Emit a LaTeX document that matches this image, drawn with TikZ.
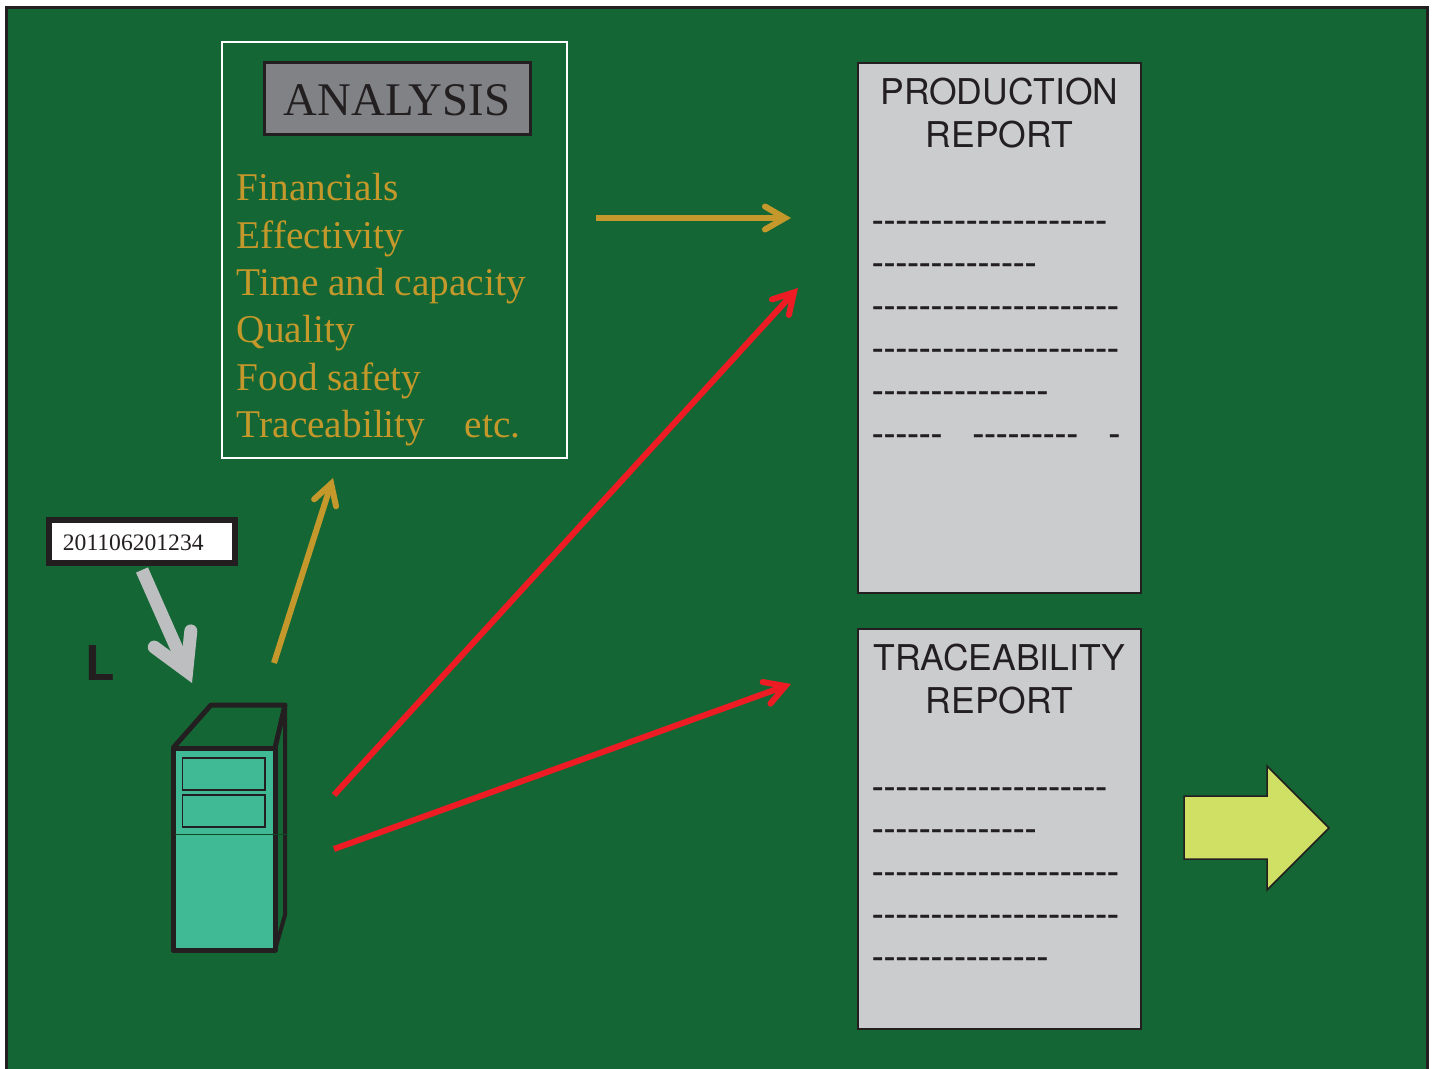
\documentclass[tikz,border=0pt]{standalone}
\usepackage{fontspec}
\usetikzlibrary{arrows.meta}
\newfontfamily\rsans{TeX Gyre Heros}
\newfontfamily\rserif{Liberation Serif}
\definecolor{bggreen}{HTML}{146734}
\definecolor{gold}{HTML}{C4982B}
\definecolor{redline}{HTML}{ED1C24}
\definecolor{teal}{HTML}{40BA94}
\definecolor{paper}{HTML}{CBCCCE}
\definecolor{lime}{HTML}{CFE065}
\definecolor{midgrey}{HTML}{808285}
\definecolor{ink}{HTML}{231F20}
\definecolor{arrowgrey}{HTML}{BCBEC0}
\tikzset{
  x=0.5pt,y=-0.5pt,
  px/.style={line width=#1*0.5pt},
  goldarrow/.style={draw=gold,px=6,-{Straight Barb[length=10pt,width=11.5pt,line cap=round,line join=miter]}},
  redarrow/.style={draw=redline,px=6,-{Straight Barb[length=10pt,width=11.5pt,line cap=round,line join=miter]}},
  greyarrow/.style={draw=arrowgrey,px=13,-{Straight Barb[length=17.5pt,width=20pt,line cap=round,line join=miter]}},
  listitem/.style={anchor=base west,inner sep=0pt,text=gold,font=\rserif\fontsize{19.65pt}{19.65pt}\selectfont},
  dashline/.style={anchor=base west,inner sep=0pt,text=ink,font=\rsans\fontsize{17.65pt}{17.65pt}\selectfont\addfontfeature{FakeBold=1.2}},
  reporthead/.style={anchor=base,inner sep=0pt,text=ink,font=\rsans\fontsize{17.75pt}{17.75pt}\selectfont},
  sheet/.style={draw=ink,fill=paper,px=1.4},
  drive/.style={draw=ink,fill=teal,px=1.5},
}
\begin{document}
\begin{tikzpicture}
\useasboundingbox (0,0) rectangle (1438,1069);
% background
\fill[bggreen] (6,8) rectangle (1427,1069);
\draw[ink,px=3] (6,1069) -- (6,8) -- (1427,8) -- (1427,1069);
% analysis frame
\draw[white,px=1.2] (222,42) rectangle (567,458);
\draw[ink,fill=midgrey,px=3] (264.5,62.5) rectangle (530.5,134.5);
\node[anchor=base,inner sep=0pt,text=ink,font=\rserif\fontsize{23.4pt}{23.4pt}\selectfont] (title) at (397,116) {ANALYSIS};
\node[listitem] (i1) at (236.5,201) {Financials};
\node[listitem] (i2) at (236.5,249) {Effectivity};
\node[listitem] (i3) at (236.5,296) {Time and capacity};
\node[listitem] (i4) at (236.5,343) {Quality};
\node[listitem] (i5) at (236.5,390.5) {Food safety};
\node[listitem] (i6) at (236.5,437.5) {Traceability};
\node[listitem] (i7) at (464.5,437.5) {etc.};
% label
\draw[ink,fill=white,px=6] (49,520) rectangle (235,563);
\node[anchor=base west,inner sep=0pt,text=ink,font=\rserif\fontsize{11.8pt}{11.8pt}\selectfont] (code) at (62.5,550) {201106201234};
\node[anchor=base west,inner sep=0pt,text=ink,font=\rsans\bfseries\fontsize{24pt}{24pt}\selectfont] (ell) at (85,680) {L};
% server
\draw[teal,fill=teal] (173,748) rectangle (275,950);
\draw[ink,px=5,line join=round] (173,748) -- (211,705) -- (285,705) -- (275,748);
\draw[ink,px=4,line join=round] (285,705) -- (285,915) -- (275,950);
\draw[ink,px=5,line join=round] (173,748) rectangle (275,950);
\draw[drive] (182.5,758) rectangle (265,790);
\draw[drive] (182.5,795) rectangle (265,827);
\draw[bggreen!70!black,px=1] (175,834) -- (287,834);
% reports
\draw[sheet] (858,63) rectangle (1141,593);
\node[reporthead] (ph1) at (999.5,105) {PRODUCTION};
\node[reporthead] (ph2) at (999.5,148) {REPORT};
\node[dashline] (pd1) at (871.5,232) {--------------------};
\node[dashline] (pd2) at (871.5,274.5) {--------------};
\node[dashline] (pd3) at (871.5,317.5) {---------------------};
\node[dashline] (pd4) at (871.5,360) {---------------------};
\node[dashline] (pd5) at (871.5,402.5) {---------------};
\node[dashline] (pd6) at (871.5,445.5) {------};
\node[dashline] (pd7) at (972,445.5) {---------};
\node[dashline] (pd8) at (1108,445.5) {-};
\draw[sheet] (858,629) rectangle (1141,1029);
\node[reporthead] (th1) at (999.5,670.5) {TRACEABILITY};
\node[reporthead] (th2) at (999.5,713) {REPORT};
\node[dashline] (td1) at (871.5,798.5) {--------------------};
\node[dashline] (td2) at (871.5,840.5) {--------------};
\node[dashline] (td3) at (871.5,883.5) {---------------------};
\node[dashline] (td4) at (871.5,926) {---------------------};
\node[dashline] (td5) at (871.5,968.5) {---------------};
% big arrow
\draw[ink,fill=lime,px=1.5,line join=miter] (1184,796) -- (1267,796) -- (1267,766) -- (1329,828) -- (1267,890) -- (1267,859) -- (1184,859) -- cycle;
% connectors
\coordinate (a1) at (596,218); \coordinate (a2) at (791,218);
\coordinate (b1) at (274,663); \coordinate (b2) at (333,478);
\coordinate (c1) at (334,795); \coordinate (c2) at (798,288);
\coordinate (d1) at (334,849); \coordinate (d2) at (791,684);
\coordinate (e1) at (142,570); \coordinate (e2) at (192,683);
\draw[goldarrow] (a1) -- (a2);
\draw[goldarrow] (b1) -- (b2);
\draw[redarrow] (c1) -- (c2);
\draw[redarrow] (d1) -- (d2);
\draw[greyarrow] (e1) -- (e2);
\end{tikzpicture}
\end{document}
